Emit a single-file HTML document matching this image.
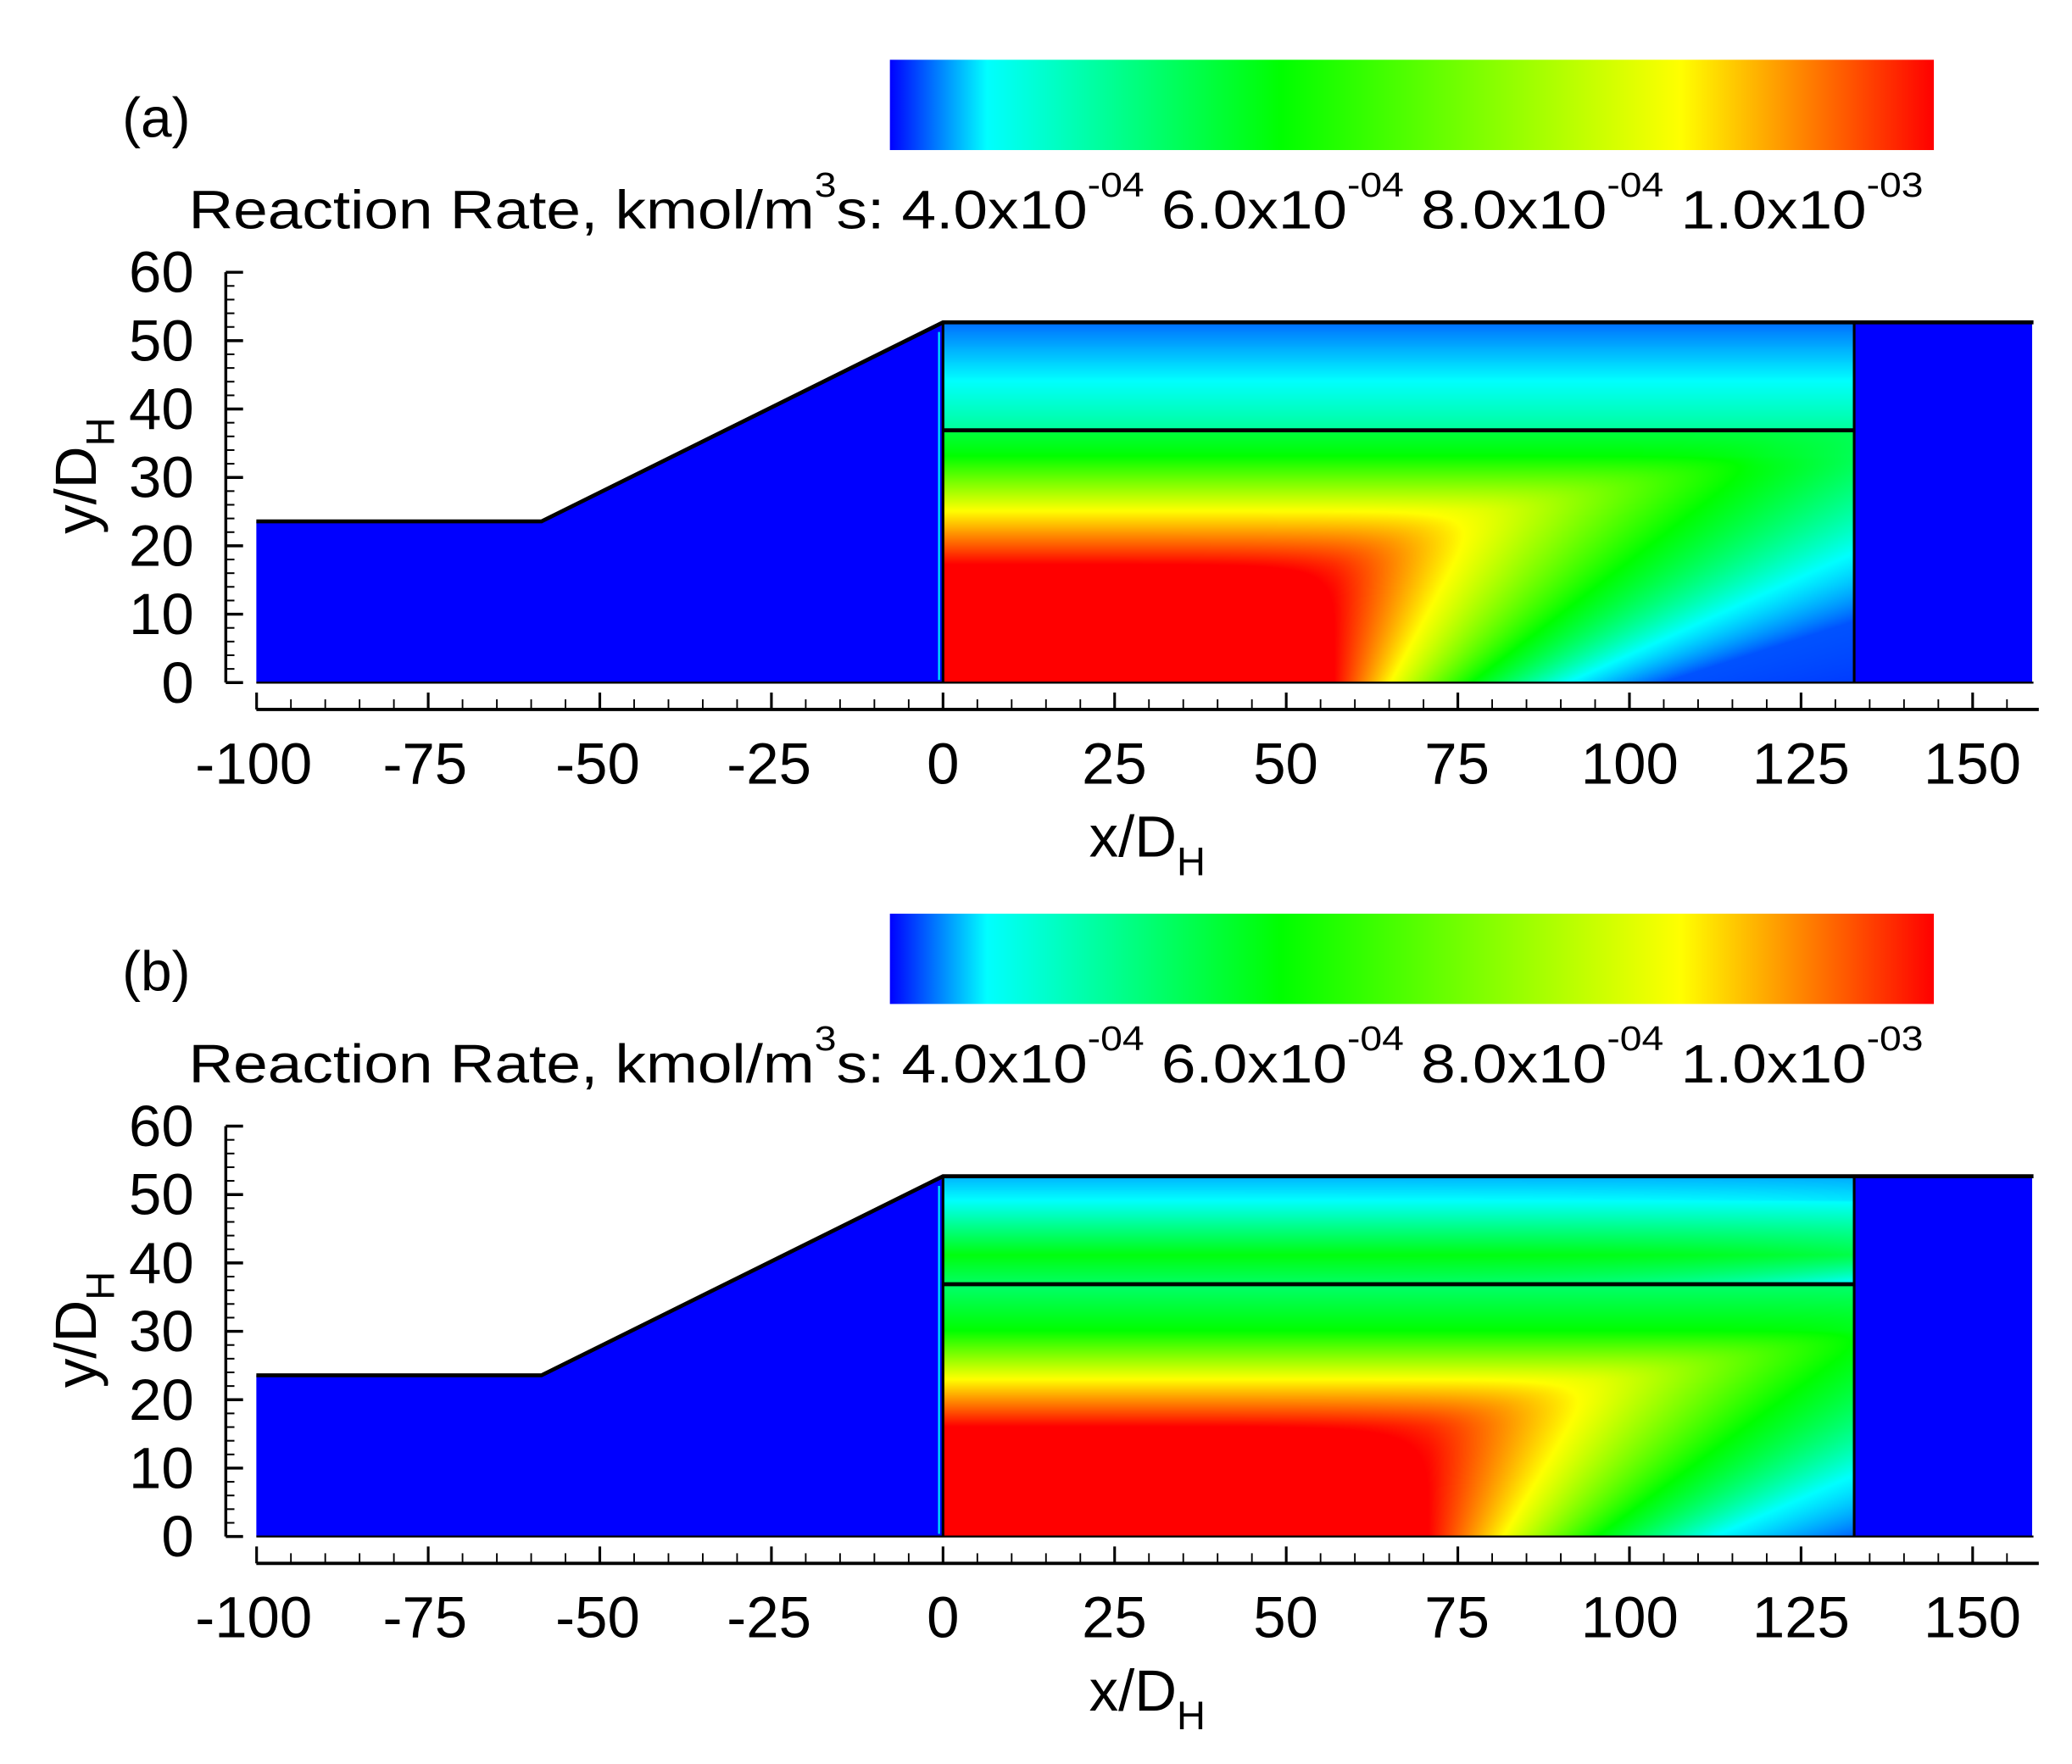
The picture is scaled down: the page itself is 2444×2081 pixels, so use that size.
<!DOCTYPE html>
<html><head><meta charset="utf-8"><style>
html,body{margin:0;padding:0;background:#fff}
#wrap{position:relative;width:2444px;height:2081px;overflow:hidden}
canvas,svg{position:absolute;left:0;top:0}
text{font-family:"Liberation Sans",sans-serif;fill:#000}
</style></head><body><div id="wrap">
<canvas id="c" width="2444" height="2081"></canvas>
<svg id="s" width="2444" height="2081" viewBox="0 0 1560 1328.3" preserveAspectRatio="none">
<defs>
<linearGradient id="cb" x1="0" x2="1" y1="0" y2="0">
<stop offset="0" stop-color="#0000ff"/><stop offset="0.093" stop-color="#00ffff"/>
<stop offset="0.375" stop-color="#00ff00"/><stop offset="0.757" stop-color="#ffff00"/>
<stop offset="1" stop-color="#ff0000"/></linearGradient>
<g id="panel">
<rect x="670" y="45" width="786" height="68" fill="url(#cb)"/>
<text x="92" y="103" font-size="42">(a)</text>
<text x="142" y="172" font-size="41" textLength="1306" lengthAdjust="spacingAndGlyphs">Reaction Rate, kmol/m<tspan dy="-24" font-size="26">3</tspan><tspan dy="24">s: 4.0x10</tspan><tspan dy="-24" font-size="26">-04</tspan><tspan dy="24"> 6.0x10</tspan><tspan dy="-24" font-size="26">-04</tspan><tspan dy="24"> 8.0x10</tspan><tspan dy="-24" font-size="26">-04</tspan><tspan dy="24"> 1.0x10</tspan><tspan dy="-24" font-size="26">-03</tspan></text>
<polygon points="193,514 193,392.6 407.7,392.6 710,242.7 710,514" fill="#0000ff"/>
<rect x="1396" y="242.7" width="134" height="271.3" fill="#0000ff"/>
<polyline points="193,392.6 407.7,392.6 710,242.7 1531,242.7" fill="none" stroke="#000" stroke-width="3"/>
<line x1="193" y1="514" x2="1531" y2="514" stroke="#000" stroke-width="1.5"/>
<line x1="710" y1="242.7" x2="710" y2="514" stroke="#000" stroke-width="2"/>
<line x1="707" y1="250" x2="707" y2="512" stroke="#00e0ff" stroke-width="1.5"/>
<line x1="1396" y1="242.7" x2="1396" y2="514" stroke="#000" stroke-width="2"/>
<line x1="710" y1="324" x2="1396" y2="324" stroke="#000" stroke-width="3"/>
<g id="yax" stroke="#000" fill="none"></g>
<g id="xax" stroke="#000" fill="none"></g>
<g font-size="44" text-anchor="end">
<text x="146" y="220">60</text><text x="146" y="271.5">50</text><text x="146" y="323">40</text>
<text x="146" y="374.5">30</text><text x="146" y="426">20</text><text x="146" y="477.5">10</text><text x="146" y="529">0</text>
</g>
<g font-size="44" text-anchor="middle">
<text x="191" y="590">-100</text><text x="320" y="590">-75</text><text x="450" y="590">-50</text>
<text x="579" y="590">-25</text><text x="710" y="590">0</text><text x="839" y="590">25</text>
<text x="968" y="590">50</text><text x="1097" y="590">75</text><text x="1227" y="590">100</text>
<text x="1356" y="590">125</text><text x="1485" y="590">150</text>
</g>
<text x="820" y="645" font-size="44">x/D<tspan font-size="30" dy="14">H</tspan></text>
<text transform="translate(72,402) rotate(-90)" font-size="44">y/D<tspan font-size="30" dy="14">H</tspan></text>
</g>
</defs>
<use href="#panel"/>
<g transform="translate(0,643)"><use href="#panel"/></g>
<rect x="88" y="700" width="70" height="60" fill="#fff"/>
<text x="92" y="746" font-size="42">(b)</text>
</svg>
</div>
<script>
(function(){
var ns="http://www.w3.org/2000/svg";
function ln(g,x1,y1,x2,y2,w){var l=document.createElementNS(ns,"line");l.setAttribute("x1",x1);l.setAttribute("y1",y1);l.setAttribute("x2",x2);l.setAttribute("y2",y2);l.setAttribute("stroke-width",w);g.appendChild(l);}
var ya=document.getElementById("yax"),xa=document.getElementById("xax");
ln(ya,170,205,170,514,2.2);
for(var v=0;v<=60;v+=2){var y=514-v*5.15;var maj=(v%10==0);ln(ya,170,y,maj?183:176.5,y,maj?2.2:1.3);}
ln(xa,193,534.2,1535,534.2,2.5);
for(var u=-100;u<=155;u+=5){var x=710+u*5.168;var maj=(u%25==0);ln(xa,x,534.2,x,maj?521.5:526.6,maj?2:1.2);}
var cv=document.getElementById("c"),ctx=cv.getContext("2d");
var S=2444/1560;
var cm=[[0,0,0,255],[0.093,0,255,255],[0.375,0,255,0],[0.757,255,255,0],[1,255,0,0]];
function col(v){if(v<=0)return [0,0,255];if(v>=1)return [255,0,0];
for(var i=1;i<cm.length;i++){if(v<=cm[i][0]){var a=cm[i-1],b=cm[i],t=(v-a[0])/(b[0]-a[0]);return [a[1]+(b[1]-a[1])*t,a[2]+(b[2]-a[2])*t,a[3]+(b[3]-a[3])*t];}}return [255,0,0];}
function interp(p,x){if(x<=p[0][0])return p[0][1];for(var i=1;i<p.length;i++){if(x<=p[i][0]){var t=(x-p[i-1][0])/(p[i][0]-p[i-1][0]);return p[i-1][1]+(p[i][1]-p[i-1][1])*t;}}return p[p.length-1][1];}
function smin(a,b,k){return -k*Math.log(Math.exp(-a/k)+Math.exp(-b/k));}
var P=[
 {oy:0,x0:57,k:0.065,
  h:[[0,1.6],[57,1],[65.2,0.757],[77,0.375],[91,0.093],[105,0.03],[200,0.0]],
  g:[[0,1.5],[17.2,1],[25,0.757],[33,0.375],[37,0.3]],
  t:[[37,0.2],[44,0.093],[52.5,0.04]], tr:0},
 {oy:643,x0:70.7,k:0.055,
  h:[[0,1.6],[70.7,1],[81.6,0.757],[95.3,0.375],[112.3,0.093],[132.8,0.035],[200,0]],
  g:[[0,1.4],[16,1],[22.9,0.757],[30,0.375],[37,0.25]],
  t:[[37,0.27],[41,0.36],[49,0.093],[52.5,0.065]], tr:0.18}
];
var X0=710*S,X1=1396*S;
var img=ctx.createImageData(2444,2081),d=img.data;
P.forEach(function(p){
 var yTop=(242.7+p.oy)*S,yBot=(514+p.oy)*S;
 for(var py=Math.floor(yTop);py<Math.ceil(yBot);py++){
  var Y=(514+p.oy-(py+0.5)/S)/5.168;
  for(var px=Math.floor(X0);px<Math.ceil(X1);px++){
   var X=((px+0.5)/S-710)/5.168, v;
   if(Y>37){v=interp(p.t,Y)-p.tr*Math.pow(X/132.8,6)*Math.exp(-(Y-37)/4);}
   else{
    var Xp=X>p.x0? p.x0+(X-p.x0)/(1+p.k*Y):X;
    var hv=interp(p.h,Xp), gv=interp(p.g,Y);
    v=smin(hv,gv,0.06);
   }
   var c=col(v),i=(py*2444+px)*4;
   d[i]=c[0];d[i+1]=c[1];d[i+2]=c[2];d[i+3]=255;
  }
 }
});
ctx.putImageData(img,0,0);
})();
</script>
</body></html>
